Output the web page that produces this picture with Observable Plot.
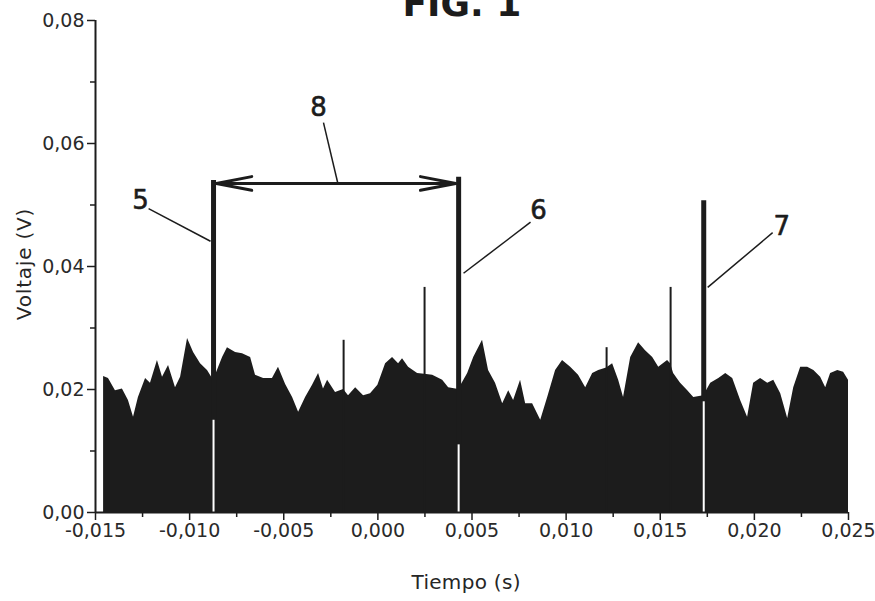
<!DOCTYPE html>
<html>
<head>
<meta charset="utf-8">
<script src="https://cdn.jsdelivr.net/npm/d3@7"></script>
<script src="https://cdn.jsdelivr.net/npm/@observablehq/plot@0.6"></script>
<style>
  html, body { margin: 0; padding: 0; background: white; overflow: hidden; }
  #wrap { position: relative; width: 875px; height: 601px; }
  .ov { position: absolute; font-family: "DejaVu Sans", sans-serif; color: #262626; white-space: nowrap; line-height: 1; }
</style>
</head>
<body>
<div id="wrap"></div>
<script>
// ---- data ----
const sampleTime = [
  -0.01457, -0.01431, -0.01394, -0.01357, -0.01325, -0.01298, -0.01272, -0.01234, -0.01208, -0.01171,
  -0.01144, -0.01112, -0.01075, -0.01048, -0.01011, -0.00979, -0.00942, -0.00905, -0.00873, -0.00825,
  -0.00799, -0.00756, -0.00719, -0.00676, -0.00650, -0.00607, -0.00560, -0.00528, -0.00490, -0.00453,
  -0.00421, -0.00384, -0.00347, -0.00315, -0.00289, -0.00267, -0.00225, -0.00182, -0.00156, -0.00118,
  -0.00076, -0.00039, 0.00000, 0.00041, 0.00078, 0.00110, 0.00131, 0.00163, 0.00211, 0.00248,
  0.00291, 0.00344, 0.00376, 0.00429, 0.00477, 0.00509, 0.00556, 0.00588, 0.00625, 0.00663,
  0.00695, 0.00721, 0.00758, 0.00785, 0.00822, 0.00865, 0.00902, 0.00944, 0.00981, 0.01024,
  0.01066, 0.01104, 0.01141, 0.01173, 0.01215, 0.01247, 0.01279, 0.01305, 0.01343, 0.01385,
  0.01422, 0.01460, 0.01492, 0.01539, 0.01555, 0.01571, 0.01608, 0.01646, 0.01678, 0.01731,
  0.01768, 0.01811, 0.01848, 0.01885, 0.01927, 0.01964, 0.01996, 0.02033, 0.02071, 0.02103,
  0.02140, 0.02177, 0.02209, 0.02246, 0.02283, 0.02316, 0.02352, 0.02379, 0.02405, 0.02443,
  0.02474, 0.02500
];
const envelopeV = [
  0.0221, 0.0218, 0.0198, 0.0201, 0.0182, 0.0155, 0.0187, 0.0218, 0.0210, 0.0247,
  0.0220, 0.0239, 0.0203, 0.0220, 0.0283, 0.0260, 0.0242, 0.0231, 0.0215, 0.0252,
  0.0268, 0.0260, 0.0258, 0.0252, 0.0223, 0.0218, 0.0218, 0.0236, 0.0208, 0.0187,
  0.0163, 0.0187, 0.0207, 0.0226, 0.0201, 0.0215, 0.0195, 0.0200, 0.0190, 0.0203,
  0.0190, 0.0193, 0.0207, 0.0242, 0.0252, 0.0242, 0.0250, 0.0236, 0.0226, 0.0225,
  0.0223, 0.0215, 0.0203, 0.0200, 0.0226, 0.0252, 0.0280, 0.0231, 0.0210, 0.0177,
  0.0198, 0.0182, 0.0215, 0.0177, 0.0177, 0.0150, 0.0187, 0.0231, 0.0247, 0.0236,
  0.0223, 0.0203, 0.0226, 0.0231, 0.0235, 0.0242, 0.0215, 0.0187, 0.0252, 0.0276,
  0.0263, 0.0252, 0.0236, 0.0247, 0.0242, 0.0226, 0.0210, 0.0198, 0.0187, 0.0190,
  0.0210, 0.0218, 0.0226, 0.0218, 0.0182, 0.0155, 0.0210, 0.0218, 0.0210, 0.0215,
  0.0193, 0.0153, 0.0203, 0.0236, 0.0236, 0.0231, 0.0220, 0.0203, 0.0226, 0.0231,
  0.0228, 0.0215
];
// main pulses (5, 6, 7)
const pulseTime = [-0.00873, 0.00429, 0.01731];
const pulsePeak = [0.0540, 0.0545, 0.0507];
const dropoutTop = [0.0150, 0.0110, 0.0180];
// minor spikes
const minorTime = [-0.00182, 0.00248, 0.01215, 0.01555];
const minorPeak = [0.0280, 0.0366, 0.0268, 0.0366];
// axis ticks
const xTicks = [-0.015, -0.010, -0.005, 0.000, 0.005, 0.010, 0.015, 0.020, 0.025];
const xMinorTicks = [-0.0125, -0.0075, -0.0025, 0.0025, 0.0075, 0.0125, 0.0175, 0.0225];
const yTicks = [0.00, 0.02, 0.04, 0.06, 0.08];
const yMinorTicks = [0.01, 0.03, 0.05, 0.07];
// annotations (data units)
const calloutText = ["5", "6", "7", "8"];
const calloutX = [-0.01261, 0.00854, 0.02145, -0.00315];
const calloutY = [0.0507, 0.0491, 0.0465, 0.0659];
const leaderX1 = [-0.01218, 0.00811, 0.02097, -0.00289];
const leaderY1 = [0.0494, 0.0472, 0.0455, 0.0634];
const leaderX2 = [-0.00889, 0.00455, 0.01752, -0.00214];
const leaderY2 = [0.0441, 0.0389, 0.0366, 0.0537];
const spanStart = -0.00858, spanEnd = 0.00414, spanLevel = 0.0535;

const loc = d3.formatLocale({decimal: ",", thousands: ".", grouping: [3], currency: ["", ""], minus: "-"});
const fx = loc.format(".3f"), fy = loc.format(".2f");
const spanMid = (spanStart + spanEnd) / 2;

const ink = "#1c1c1c";
const chart = Plot.plot({
  width: 875, height: 601,
  marginTop: 20, marginRight: 27, marginBottom: 89, marginLeft: 95,
  style: {fontFamily: "DejaVu Sans", fontSize: "19px", color: "#2a2a2a", background: "white"},
  x: {domain: [-0.015, 0.025]},
  y: {domain: [0, 0.08]},
  marks: [
    Plot.areaY(sampleTime, {x: sampleTime, y: envelopeV, fill: ink}),
    Plot.ruleX(pulseTime, {x: pulseTime, y1: 0, y2: pulsePeak, stroke: ink, strokeWidth: 5}),
    Plot.ruleX(minorTime, {x: minorTime, y1: 0, y2: minorPeak, stroke: ink, strokeWidth: 2}),
    Plot.ruleX(pulseTime, {x: pulseTime, y1: 0, y2: dropoutTop, stroke: "white", strokeWidth: 2}),
    Plot.link(leaderX1, {x1: leaderX1, y1: leaderY1, x2: leaderX2, y2: leaderY2, stroke: ink, strokeWidth: 1.5}),
    Plot.arrow([spanStart, spanEnd], {x1: spanMid, y1: spanLevel, x2: d => d, y2: spanLevel, stroke: ink, strokeWidth: 3, headLength: 18, headAngle: 22}),
    Plot.text(calloutText, {x: calloutX, y: calloutY, text: d => d, fontSize: 26, fill: ink, stroke: ink, strokeWidth: 0.6}),
    Plot.axisX({ticks: xTicks, tickSize: 8, tickPadding: 3, tickFormat: fx, label: null, stroke: ink, strokeWidth: 1.5}),
    Plot.axisX({ticks: xMinorTicks, tickSize: 5, tickFormat: () => "", label: null, stroke: ink, strokeWidth: 1.5}),
    Plot.axisY({ticks: yTicks, tickSize: 8, tickPadding: 3, tickFormat: fy, label: null, stroke: ink, strokeWidth: 1.5}),
    Plot.axisY({ticks: yMinorTicks, tickSize: 5, tickFormat: () => "", label: null, stroke: ink, strokeWidth: 1.5}),
    Plot.ruleY([0], {stroke: ink, strokeWidth: 2}),
    Plot.ruleX([-0.015], {stroke: ink, strokeWidth: 2})
  ]
});
const wrap = document.getElementById("wrap");
wrap.appendChild(chart);

function overlay(text, css) {
  const d = document.createElement("div");
  d.className = "ov";
  d.textContent = text;
  Object.assign(d.style, css);
  wrap.appendChild(d);
  return d;
}
const ft = overlay("FIG. 1", {top: "-14px", fontSize: "36px", fontWeight: "bold", color: "#1c1c1c"});
ft.style.left = (462 - ft.offsetWidth / 2) + "px";
const xt = overlay("Tiempo (s)", {fontSize: "20px", letterSpacing: "0.3px", top: "572px"});
xt.style.left = (466 - xt.offsetWidth / 2) + "px";
const yt = overlay("Voltaje (V)", {fontSize: "20px", letterSpacing: "0.8px"});
yt.style.left = (24 - yt.offsetWidth / 2) + "px";
yt.style.top = (264 - yt.offsetHeight / 2) + "px";
yt.style.transform = "rotate(-90deg)";
</script>
</body>
</html>
